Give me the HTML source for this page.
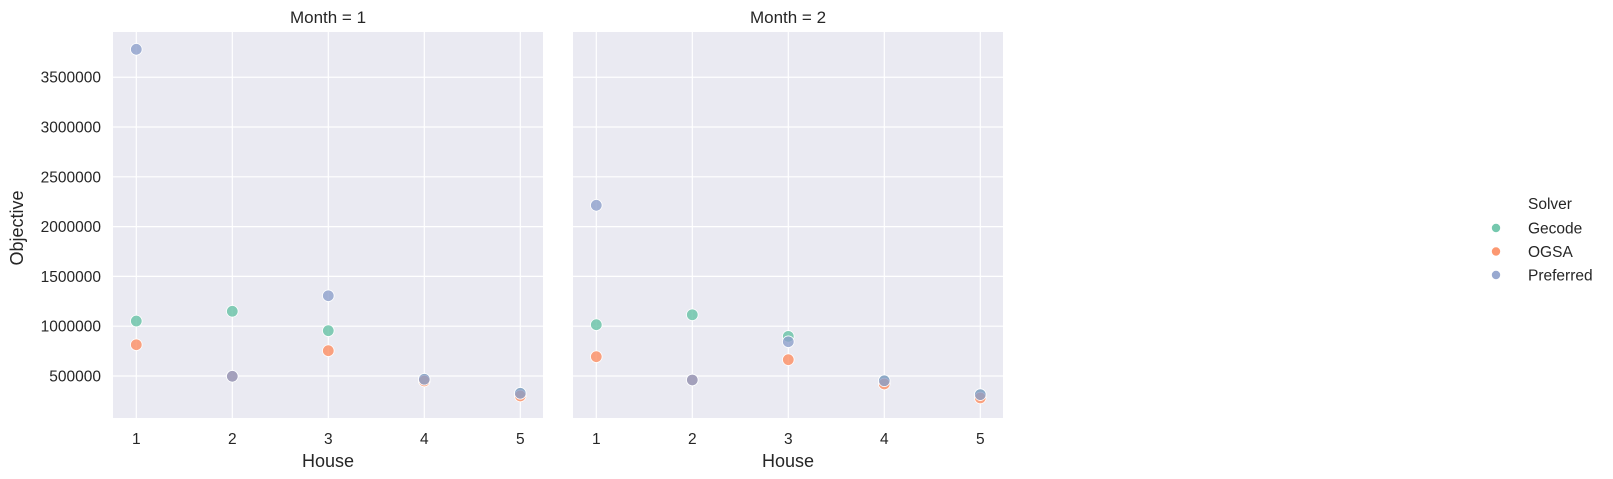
<!DOCTYPE html>
<html><head><meta charset="utf-8"><style>
html,body{margin:0;padding:0;background:#fff;}
svg{display:block;font-family:"Liberation Sans",Arial,sans-serif;}
</style></head><body>
<svg id="chart" width="1613" height="479"></svg>
<script>
const houses = [1, 2, 3, 4, 5];
const months = [1, 2];
const solvers = ["Gecode", "OGSA", "Preferred"];
const gecodeM1 = [1052000, 1150000, 955000, 467000, 326000];
const ogsaM1 = [814000, 497000, 754000, 450000, 300000];
const preferredM1 = [3780000, 497000, 1306000, 467000, 326000];
const gecodeM2 = [1015000, 1115000, 898000, 452000, 313000];
const ogsaM2 = [694000, 460000, 664000, 420000, 280000];
const preferredM2 = [2214000, 460000, 844000, 452000, 313000];
const yTicks = [500000, 1000000, 1500000, 2000000, 2500000, 3000000, 3500000];

const NS = "http://www.w3.org/2000/svg";
const svgEl = document.getElementById("chart");
const colors = {Gecode:"#66c2a5", OGSA:"#fc8d62", Preferred:"#8da0cb"};
const data = [
  {Gecode:gecodeM1, OGSA:ogsaM1, Preferred:preferredM1},
  {Gecode:gecodeM2, OGSA:ogsaM2, Preferred:preferredM2}
];
const panelLeft = [113, 573];
const pW = 430, plotTop = 32, plotBottom = 418;
const yMin = 78300, yMax = 3954000;
function yS(v){ return plotBottom - (v - yMin) / (yMax - yMin) * (plotBottom - plotTop); }
function xS(p, h){ return panelLeft[p] + 23.3 + (h - 1) * 96; }
function mk(tag, attrs, parent){
  const e = document.createElementNS(NS, tag);
  for (const k in attrs) e.setAttribute(k, attrs[k]);
  (parent || svgEl).appendChild(e);
  return e;
}

months.forEach((m, p) => {
  const g = mk("g", {});
  
  
  const bg = mk("rect", {x:panelLeft[p], y:plotTop, width:pW, height:plotBottom-plotTop, fill:"#eaeaf2"}, g);
  
  
  yTicks.forEach(t => {
    const ln = mk("line", {x1:panelLeft[p], x2:panelLeft[p]+pW, y1:yS(t), y2:yS(t), stroke:"#fff", "stroke-width":1.2}, g);
    
    
    if (p === 0) {
      const tx = mk("text", {x:101, y:yS(t)+5.5, "text-anchor":"end", "font-size":"15.5", fill:"#262626"});
      tx.textContent = String(t);
      
      
    }
  });
  houses.forEach(h => {
    const ln = mk("line", {x1:xS(p,h), x2:xS(p,h), y1:plotTop, y2:plotBottom, stroke:"#fff", "stroke-width":1.2}, g);
    
    
    const tx = mk("text", {x:xS(p,h), y:444, "text-anchor":"middle", "font-size":"15.5", fill:"#262626"});
    tx.textContent = String(h);
    
    
  });
  solvers.forEach(s => {
    data[p][s].forEach((v, i) => {
      const c = mk("circle", {cx:xS(p,houses[i]), cy:yS(v), r:5.8, fill:colors[s], "fill-opacity":0.8, stroke:"#fff", "stroke-width":0.8}, g);
      
      
    });
  });
  const title = mk("text", {x:panelLeft[p]+pW/2, y:23, "text-anchor":"middle", "font-size":"17", fill:"#262626"});
  title.textContent = "Month = " + m;
  
  
  const xl = mk("text", {x:panelLeft[p]+pW/2, y:467, "text-anchor":"middle", "font-size":"18", fill:"#262626"});
  xl.textContent = "House";
  
  
});

const yl = mk("text", {x:0, y:0, transform:"translate(23,228) rotate(-90)", "text-anchor":"middle", "font-size":"18", fill:"#262626"});
yl.textContent = "Objective";



const lt = mk("text", {x:1528, y:209, "font-size":"15.5", fill:"#262626"});
lt.textContent = "Solver";


solvers.forEach((s, i) => {
  const yy = 228 + i * 23.5;
  const c = mk("circle", {cx:1496, cy:yy, r:4.2, fill:colors[s], "fill-opacity":0.9});
  
  
  const t = mk("text", {x:1528, y:yy+5.5, "font-size":"15.5", fill:"#262626"});
  t.textContent = s;
  
  
});
</script>
</body></html>
